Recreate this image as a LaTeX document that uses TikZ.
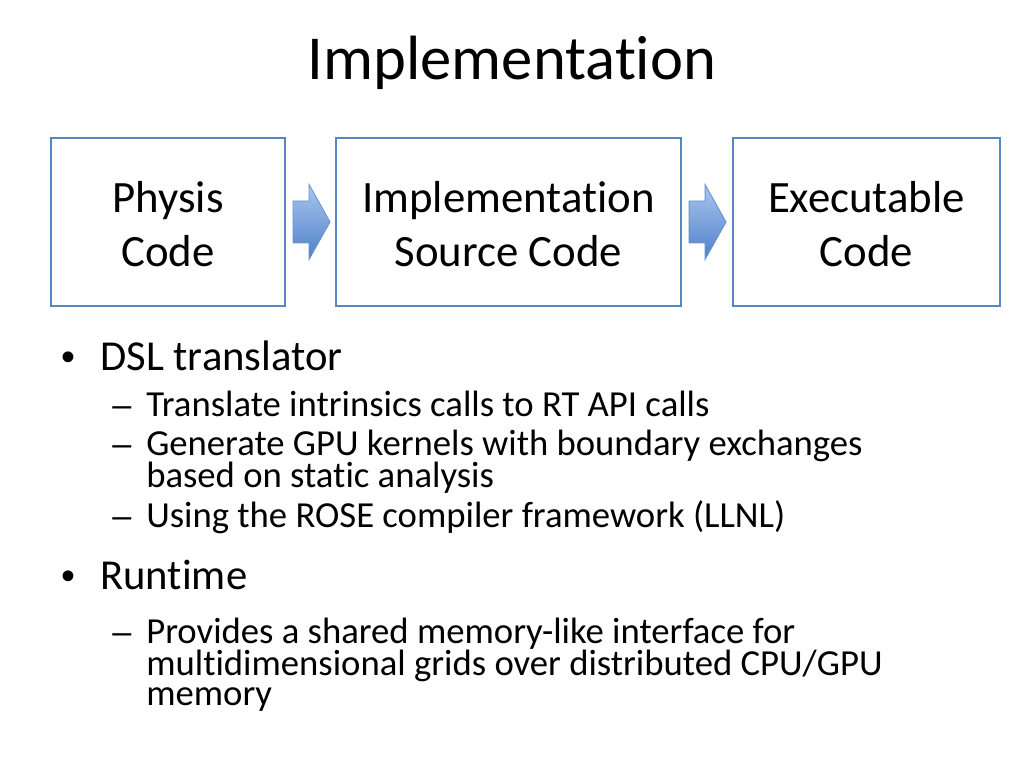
\documentclass[tikz,border=0pt]{standalone}
\usepackage{fontspec}
\setmainfont[Ligatures=NoCommon]{Carlito}
\newfontfamily\bulletfont{Liberation Sans}
\usetikzlibrary{calc}
\definecolor{boxblue}{HTML}{5587C2}
\definecolor{arrtop}{HTML}{A9C6EE}
\definecolor{arrbot}{HTML}{4F80C9}
\definecolor{arredge}{HTML}{6A93CC}
\begin{document}
\begin{tikzpicture}[x=0.703125pt,y=-0.703125pt,
  flowbox/.style={draw=boxblue,line width=1.5pt,inner sep=0pt,minimum height={168*0.703125pt}},
  boxtext/.style={inner sep=0pt,align=center,font=\fontsize{31.5}{38.5}\selectfont},
  lone/.style={anchor=base west,inner sep=0pt,font=\fontsize{30}{34}\selectfont},
  ltwo/.style={anchor=base west,inner sep=0pt,text height=17pt,text depth=4pt,font=\fontsize{25.8}{29}\selectfont},
  mark1/.style={anchor=base west,inner sep=0pt,font=\bulletfont\fontsize{28}{34}\selectfont},
  mark2/.style={anchor=base west,inner sep=0pt,font=\bulletfont\fontsize{24}{29}\selectfont},
  blockarrow/.style={draw=arredge,line width=0.6pt,top color=arrtop,bottom color=arrbot,line join=miter}]
\fill[white] (0,0) rectangle (1024,768);
\useasboundingbox (0,0) rectangle (1024,768);

% title
\node[anchor=base,inner sep=0pt,font=\fontsize{44}{50}\selectfont] (title) at (512,80) {Implementation};

% boxes
\node[flowbox,minimum width={234*0.703125pt}] (b1) at (168,222) {};
\node[flowbox,minimum width={345*0.703125pt}] (b2) at (508.5,222) {};
\node[flowbox,minimum width={267*0.703125pt}] (b3) at (866.5,222) {};
\node[boxtext] (b1t) at ($(b1.center)+(0,2)$) {Physis\\Code};
\node[boxtext] (b2t) at ($(b2.center)+(0,2)$) {Implementation\\Source Code};
\node[boxtext] (b3t) at ($(b3.center)+(0,2)$) {Executable\\Code};

% block arrows between boxes
\foreach \src in {b1,b2}{
  \coordinate (s) at ($(\src.east)+(7,0)$);
  \draw[blockarrow] ($(s)+(0,-21)$) -- ($(s)+(16,-21)$) -- ($(s)+(16,-37.5)$)
     -- ($(s)+(37,0)$) -- ($(s)+(16,37.5)$) -- ($(s)+(16,21)$) -- ($(s)+(0,21)$) -- cycle;
}

% bullets
\node[mark1] (bul1) at (61,370) {•};
\node[lone] (t1) at (100,370) {DSL translator};
\node[mark2] (d1) at (112,416) {–};
\node[ltwo] (t11) at (146,416) {Translate intrinsics calls to RT API calls};
\node[mark2] (d2) at (112,455) {–};
\node[ltwo] (t12) at (146,455) {Generate GPU kernels with boundary exchanges};
\node[ltwo] (t12b) at (146,487) {based on static analysis};
\node[mark2] (d3) at (112,527) {–};
\node[ltwo] (t13) at (146,527) {Using the ROSE compiler framework (LLNL)};
\node[mark1] (bul2) at (61,589) {•};
\node[lone] (t2) at (100,589) {Runtime};
\node[mark2] (d4) at (112,643) {–};
\node[ltwo] (t21) at (146,643) {Provides a shared memory-like interface for};
\node[ltwo] (t21b) at (146,675) {multidimensional grids over distributed CPU/GPU};
\node[ltwo] (t21c) at (146,705) {memory};
\end{tikzpicture}
\end{document}
